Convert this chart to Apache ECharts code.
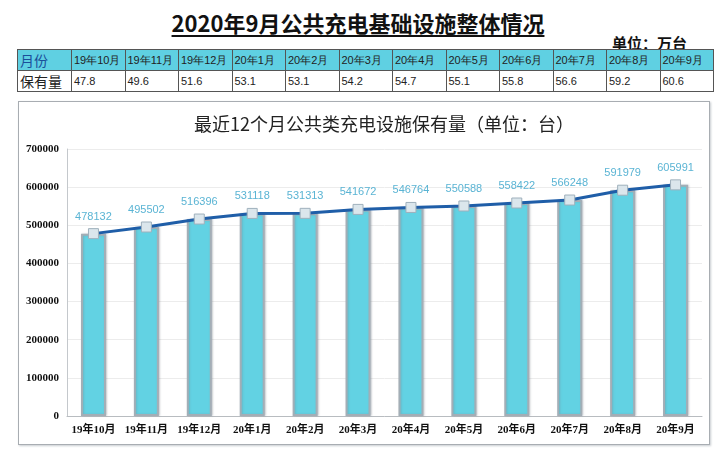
<html lang="zh">
<head>
<meta charset="UTF-8">
<title>2020年9月公共充电基础设施整体情况</title>
<script src="https://cdn.jsdelivr.net/npm/echarts@6/dist/echarts.min.js"></script>
<style>
    body { margin: 0; width: 720px; height: 449px; background: #fff; position: relative; overflow: hidden;
           font-family: "Noto Sans CJK SC", sans-serif; }
    #title { position: absolute; left: 0; width: 716px; top: 6px; text-align: center; font-size: 22px;
             font-weight: bold; text-decoration: underline; text-underline-offset: 3px; color: #111; }
    #unit { position: absolute; left: 612px; top: 32px; font-size: 15px; font-weight: bold; color: #111; }
    #table { position: absolute; left: 17px; top: 49px; border-collapse: collapse; table-layout: fixed; }
    #table td { border: 1px solid #555; height: 16px; padding: 0 0 0 2px; font-family: "Liberation Sans", Arial, sans-serif;
                font-size: 11px; color: #222; white-space: nowrap; overflow: hidden; }
    #table tr.head td { background: #5fd0e2; }
    #table td.first { font-size: 14px; font-family: "Noto Sans CJK SC", sans-serif; }
    #table tr.head td.first { color: #1b4f9a; }
    #container { position: absolute; left: 18px; top: 101px; width: 692px; height: 344px;
                 border: 1px solid #a8adb2; box-shadow: 1px 1px 2px #c8ccd0; box-sizing: border-box; }
</style>
</head>
<body>
<div id="title">2020年9月公共充电基础设施整体情况</div>
<div id="unit">单位：万台</div>
<table id="table"></table>
<div id="container"></div>
<script>
    // 月份
    var months = ['19年10月', '19年11月', '19年12月', '20年1月', '20年2月', '20年3月',
                  '20年4月', '20年5月', '20年6月', '20年7月', '20年8月', '20年9月'];
    // 保有量（万台）
    var tableValues = ['47.8', '49.6', '51.6', '53.1', '53.1', '54.2', '54.7', '55.1', '55.8', '56.6', '59.2', '60.6'];
    // 保有量（台）
    var counts = [478132, 495502, 516396, 531118, 531313, 541672, 546764, 550588, 558422, 566248, 591979, 605991];

    // 上方表格
    var table = document.getElementById('table');
    var html = '<colgroup><col style="width:54px">';
    for (var i = 0; i < months.length; i++) html += '<col style="width:53.5px">';
    html += '</colgroup><tr class="head"><td class="first">月份</td>';
    for (var i = 0; i < months.length; i++) html += '<td>' + months[i] + '</td>';
    html += '</tr><tr><td class="first">保有量</td>';
    for (var i = 0; i < tableValues.length; i++) html += '<td>' + tableValues[i] + '</td>';
    html += '</tr>';
    table.innerHTML = html;

    var chart = echarts.init(document.getElementById('container'));

    var option = {
        animation: false,
        title: {
            text: '最近12个月公共类充电设施保有量（单位：台）',
            left: 170,
            top: 8,
            textStyle: { fontSize: 18, fontWeight: 'normal', color: '#222', fontFamily: '"Noto Sans CJK SC"' }
        },
        grid: { left: 48, right: 7, top: 47, bottom: 28 },
        xAxis: {
            type: 'category',
            data: months,
            axisLine: { lineStyle: { color: '#b8bcc0', width: 1 } },
            axisTick: { show: false },
            axisLabel: { interval: 0, color: '#111', fontSize: 11, fontWeight: 'bold', margin: 9,
                         fontFamily: '"Liberation Serif", "Noto Sans CJK SC"' }
        },
        yAxis: {
            type: 'value',
            min: 0,
            max: 700000,
            interval: 100000,
            axisLine: { show: true, lineStyle: { color: '#c4c8cc' } },
            axisTick: { show: false },
            splitLine: { lineStyle: { color: '#ececec' } },
            axisLabel: { color: '#111', fontSize: 11, fontWeight: 'bold', margin: 8,
                         fontFamily: '"Liberation Serif", serif',
                         formatter: function (v) { return String(v); } }
        },
        series: [
            {
                type: 'bar',
                data: counts,
                barWidth: 25,
                itemStyle: {
                    color: '#62d2e3',
                    borderColor: '#a3aeb6',
                    borderWidth: 2,
                    shadowColor: 'rgba(120,130,140,0.35)',
                    shadowBlur: 2,
                    shadowOffsetX: 1
                }
            },
            {
                type: 'line',
                data: counts,
                symbol: 'rect',
                symbolSize: 10,
                lineStyle: { color: '#1f5ea8', width: 3 },
                itemStyle: { color: '#dbe6ec', borderColor: '#9fb0bc', borderWidth: 1 },
                label: {
                    show: true,
                    position: 'top',
                    distance: 6,
                    color: '#5ab4d4',
                    fontSize: 11,
                    fontFamily: '"Liberation Sans Narrow", "Liberation Sans", sans-serif'
                },
                z: 3
            }
        ]
    };

    chart.setOption(option);
</script>
</body>
</html>
